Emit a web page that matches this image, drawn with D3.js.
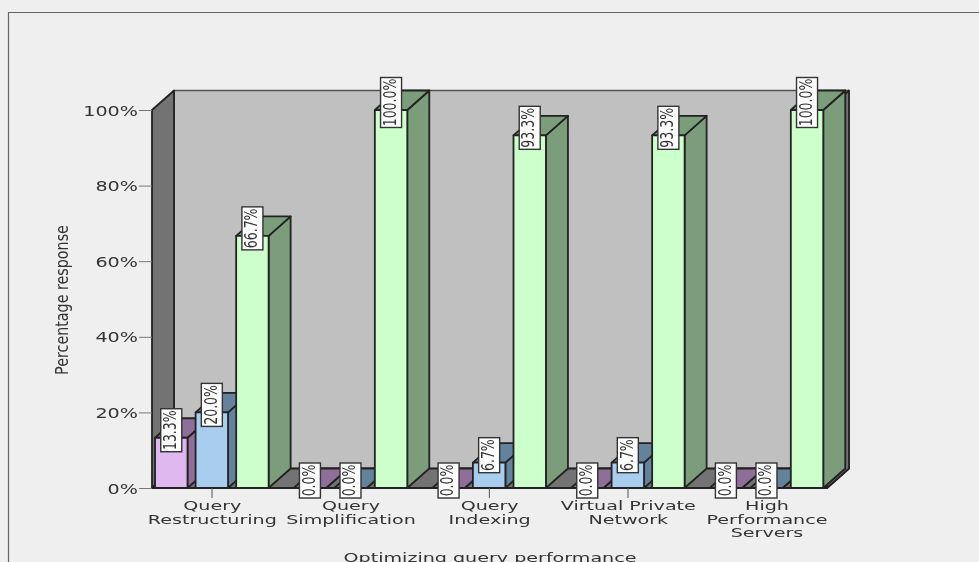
<!DOCTYPE html>
<html>
<head>
<meta charset="utf-8">
<style>
html,body{margin:0;padding:0;background:#efefef;overflow:hidden}
svg{display:block;filter:blur(0.35px)}
text{font-family:"DejaVu Sans",sans-serif;fill:#333}
</style>
<script src="https://cdn.jsdelivr.net/npm/d3@7/dist/d3.min.js"></script>
</head>
<body>
<div id="chart"></div>
<script>
const categories = ["Query Restructuring","Query Simplification","Query Indexing","Virtual Private Network","High Performance Servers"];
const categoryLines = [["Query","Restructuring"],["Query","Simplification"],["Query","Indexing"],["Virtual Private","Network"],["High","Performance","Servers"]];
const seriesNames = ["Low","Medium","High"];
const lowValues = [13.3,0,0,0,0];
const mediumValues = [20,0,6.7,6.7,0];
const highValues = [66.7,100,93.3,93.3,100];
const yTicks = [0,20,40,60,80,100];
const seriesFront = ["#e0b8f0","#a9cdee","#ccffcc"];
const seriesSide = ["#8f6e9a","#64829c","#7b9d7b"];
const xTitle = "Optimizing query performance";
const yTitle = "Percentage response";

const W = 979, H = 562;
const svg = d3.select("#chart").append("svg").attr("width",W).attr("height",H);
svg.append("rect").attr("width",W).attr("height",H).attr("fill","#efefef");
svg.append("path").attr("d","M8.5,562V12.5H979").attr("fill","none").attr("stroke","#666").attr("stroke-width",1.2);

const y = d3.scaleLinear().domain([0,100]).range([488,110]);
const x = d3.scaleBand().domain(categories).range([142.7,836]);
const inner = d3.scaleBand().domain(seriesNames).range([-57,56.6]).paddingInner(0.2);
const dx = 22, dy = -19.5, left = 152, right = 827;
const sx = 1.42, sxCat = 1.47;

// walls
const poly = (pts,fill,sw=1.8,stroke="#222") => svg.append("polygon").attr("points",pts.map(p=>p.join(",")).join(" "))
  .attr("fill",fill).attr("stroke",stroke).attr("stroke-width",sw).attr("stroke-linejoin","round");
const top0 = y(100), bot0 = y(0);
poly([[left+dx,top0+dy],[right+dx,top0+dy],[right+dx,bot0+dy],[left+dx,bot0+dy]],"#c0c0c0",1.4,"#555");
poly([[left,top0],[left+dx,top0+dy],[left+dx,bot0+dy],[left,bot0]],"#737373");
poly([[left,bot0],[left+dx,bot0+dy],[right+dx,bot0+dy],[right,bot0]],"#737373");
poly([[right,top0],[right+dx,top0+dy],[right+dx,bot0+dy],[right,bot0]],"#737373");

// y axis
const yAxis = d3.axisLeft(y).tickValues(yTicks).tickSize(13).tickPadding(0).tickFormat(()=>"");
const yg = svg.append("g").attr("transform",`translate(${left},0)`).call(yAxis);
yg.select(".domain").remove();
yg.selectAll("line").attr("stroke","#777");
yg.selectAll(".tick").append("text")
  .attr("transform",`translate(-14,5) scale(${sx},1)`).attr("text-anchor","end")
  .attr("font-size",13.5).text(d=>d+"%");

// bars
const seriesValues = [lowValues,mediumValues,highValues];
const barW = inner.bandwidth(), bd = 22, bh = -19.5;
const bars = [];
categories.forEach((c,i)=>seriesNames.forEach((s,j)=>bars.push({c,s,j,v:seriesValues[j][i]})));
const bx = d => x(d.c) + x.bandwidth()/2 + inner(d.s);
const gBars = svg.append("g").selectAll("g").data(bars).join("g");
gBars.each(function(d){
  const g = d3.select(this), x0 = bx(d), x1 = x0+barW, t = y(d.v), b = y(0);
  const p = (pts,f) => g.append("polygon").attr("points",pts.map(q=>q.join(",")).join(" "))
    .attr("fill",f).attr("stroke","#222").attr("stroke-width",1.8).attr("stroke-linejoin","round");
  p([[x1,t],[x1+bd,t+bh],[x1+bd,b+bh],[x1,b]],seriesSide[d.j]);
  p([[x0,t],[x0+bd,t+bh],[x1+bd,t+bh],[x1,t]],seriesSide[d.j]);
  if(d.v>0) p([[x0,t],[x1,t],[x1,b],[x0,b]],seriesFront[d.j]);
});

// x axis
const xAxis = d3.axisBottom(x).tickSize(10).tickFormat(()=>"");
const xg = svg.append("g").attr("transform",`translate(0,${bot0})`).call(xAxis);
xg.select(".domain").remove();
xg.selectAll("line").attr("stroke","#555");
xg.selectAll(".tick").each(function(c,i){
  const t = d3.select(this).append("text").attr("text-anchor","middle")
    .attr("font-size",13).attr("fill","#333").attr("transform",`translate(0.3,0) scale(${sxCat},1)`);
  categoryLines[i].forEach((l,k)=>t.append("tspan").attr("x",0).attr("y",22.3+k*13.3).text(l));
});

// bar labels
const labels = svg.append("g").selectAll("g").data(bars).join("g")
  .attr("transform",d=>`translate(${bx(d)+barW/2},${y(d.v)-7.5})`);
labels.each(function(d){
  const g = d3.select(this);
  const txt = d.v.toFixed(1)+"%";
  const h = txt.length===4?35:(txt.length===5?43:50);
  g.append("rect").attr("x",-10.5).attr("y",-h/2).attr("width",21).attr("height",h)
    .attr("fill","#fff").attr("stroke","#333").attr("stroke-width",1.4);
  g.append("text").attr("transform",`rotate(-90) scale(1,${sx})`).attr("text-anchor","middle")
    .attr("y",3.3).attr("font-size",12.5).attr("fill","#222").text(txt);
});

// titles
svg.append("text").attr("transform",`translate(67.5,300) rotate(-90) scale(1,1.25)`).attr("text-anchor","middle")
  .attr("font-size",14.3).text(yTitle);
svg.append("text").attr("transform",`translate(490,562) scale(1.47,1)`).attr("text-anchor","middle")
  .attr("font-size",13).text(xTitle);
</script>
</body>
</html>
